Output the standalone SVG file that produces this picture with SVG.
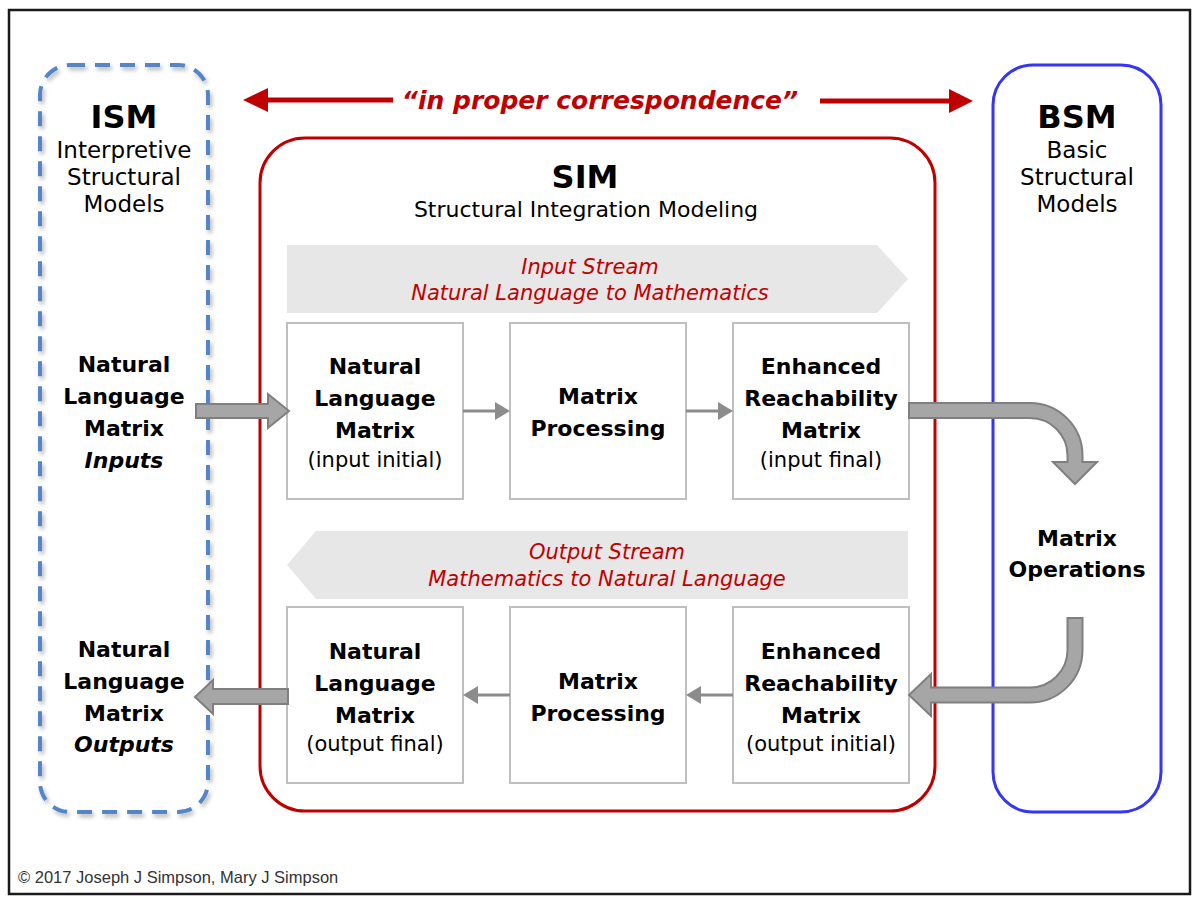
<svg xmlns="http://www.w3.org/2000/svg" width="1200" height="901" viewBox="0 0 1200 901">
<defs>
<style>
.t{font-family:"DejaVu Sans",sans-serif;fill:#000;text-anchor:middle}
.b{font-weight:bold;font-size:22px}
.r{font-size:21px}
.h{font-weight:bold;font-size:32px}
.s{font-size:22px}
.s2{font-size:23px}
.st{font-family:"DejaVu Sans",sans-serif;font-style:italic;font-size:21px;fill:#c00000;text-anchor:middle}
.box{fill:#fff;stroke:#bfbfbf;stroke-width:2}
.band{fill:#e7e7e7}
.big{fill:#a6a6a6;stroke:#7f7f7f;stroke-width:2;stroke-linejoin:miter}
.sm{stroke:#8c8c8c;stroke-width:3;fill:none}
.smh{fill:#8c8c8c}
.red{stroke:#c00000;stroke-width:5;fill:none}
.redh{fill:#c00000}
</style>
<filter id="sh" x="-10%" y="-10%" width="130%" height="130%">
<feDropShadow dx="2" dy="3" stdDeviation="2" flood-color="#000" flood-opacity="0.3"/>
</filter>
</defs>
<rect x="0" y="0" width="1200" height="901" fill="#fff"/>
<rect x="9" y="10" width="1181" height="884" fill="none" stroke="#1a1a1a" stroke-width="2.5"/>

<g id="ism">
<rect x="40" y="65" width="168" height="747" rx="30" fill="none" stroke="#5585c5" stroke-width="4" stroke-dasharray="15 10" filter="url(#sh)"/>
<text class="t h" x="124" y="128">ISM</text>
<text class="t s2" x="124" y="158">Interpretive</text>
<text class="t s2" x="124" y="185">Structural</text>
<text class="t s2" x="124" y="212">Models</text>
<text class="t b" x="124" y="372">Natural</text>
<text class="t b" x="124" y="404">Language</text>
<text class="t b" x="124" y="436">Matrix</text>
<text class="t b" x="124" y="468" font-style="italic">Inputs</text>
<text class="t b" x="124" y="657">Natural</text>
<text class="t b" x="124" y="689">Language</text>
<text class="t b" x="124" y="721">Matrix</text>
<text class="t b" x="124" y="752" font-style="italic">Outputs</text>
</g>

<g id="bsm">
<rect x="993" y="65" width="168" height="747" rx="40" fill="none" stroke="#3535f5" stroke-width="3"/>
<text class="t h" x="1077" y="128">BSM</text>
<text class="t s2" x="1077" y="158">Basic</text>
<text class="t s2" x="1077" y="185">Structural</text>
<text class="t s2" x="1077" y="212">Models</text>
<text class="t b" x="1077" y="546">Matrix</text>
<text class="t b" x="1077" y="577">Operations</text>
</g>

<g id="sim">
<rect x="260" y="138" width="675" height="673" rx="45" fill="none" stroke="#c00000" stroke-width="3"/>
<text class="t h" x="585" y="188">SIM</text>
<text class="t s" x="586" y="217">Structural Integration Modeling</text>
</g>

<g id="input-stream">
<polygon class="band" points="287,245 877,245 908,279 877,313 287,313"/>
<text class="st" x="590" y="274">Input Stream</text>
<text class="st" x="590" y="300">Natural Language to Mathematics</text>
</g>

<g id="output-stream">
<polygon class="band" points="316,531 908,531 908,599 316,599 287,565"/>
<text class="st" x="607" y="559">Output Stream</text>
<text class="st" x="607" y="586">Mathematics to Natural Language</text>
</g>

<g id="nlm-in">
<rect class="box" x="287" y="323" width="176" height="176"/>
<text class="t b" x="375" y="374">Natural</text>
<text class="t b" x="375" y="406">Language</text>
<text class="t b" x="375" y="438">Matrix</text>
<text class="t r" x="375" y="467">(input initial)</text>
</g>
<g id="mp-in">
<rect class="box" x="510" y="323" width="176" height="176"/>
<text class="t b" x="598" y="404">Matrix</text>
<text class="t b" x="598" y="436">Processing</text>
</g>
<g id="erm-in">
<rect class="box" x="733" y="323" width="176" height="176"/>
<text class="t b" x="821" y="374">Enhanced</text>
<text class="t b" x="821" y="406">Reachability</text>
<text class="t b" x="821" y="438">Matrix</text>
<text class="t r" x="821" y="467">(input final)</text>
</g>

<g id="nlm-out">
<rect class="box" x="287" y="607" width="176" height="176"/>
<text class="t b" x="375" y="659">Natural</text>
<text class="t b" x="375" y="691">Language</text>
<text class="t b" x="375" y="723">Matrix</text>
<text class="t r" x="375" y="751">(output final)</text>
</g>
<g id="mp-out">
<rect class="box" x="510" y="607" width="176" height="176"/>
<text class="t b" x="598" y="689">Matrix</text>
<text class="t b" x="598" y="721">Processing</text>
</g>
<g id="erm-out">
<rect class="box" x="733" y="607" width="176" height="176"/>
<text class="t b" x="821" y="659">Enhanced</text>
<text class="t b" x="821" y="691">Reachability</text>
<text class="t b" x="821" y="723">Matrix</text>
<text class="t r" x="821" y="751">(output initial)</text>
</g>

<g id="connectors">
<line class="red" x1="393" y1="100" x2="262" y2="100"/>
<polygon class="redh" points="243,100 268,88 268,112"/>
<line class="red" x1="820" y1="101" x2="953" y2="101"/>
<polygon class="redh" points="973,101 949,89 949,113"/>
<text x="600" y="109" font-family="DejaVu Sans,sans-serif" font-weight="bold" font-style="italic" font-size="25" fill="#c00000" text-anchor="middle">“in proper correspondence”</text>

<line class="sm" x1="463" y1="411" x2="498" y2="411"/>
<polygon class="smh" points="510,411 495,402 495,420"/>
<line class="sm" x1="686" y1="411" x2="721" y2="411"/>
<polygon class="smh" points="733,411 718,402 718,420"/>
<line class="sm" x1="733" y1="695" x2="698" y2="695"/>
<polygon class="smh" points="686,695 701,686 701,704"/>
<line class="sm" x1="510" y1="695" x2="475" y2="695"/>
<polygon class="smh" points="463,695 478,686 478,704"/>

<path class="big" d="M196,404 H268 V394 L289,411 L268,428 V418 H196 Z"/>
<path class="big" d="M288,689 H213 V680 L195,697 L213,714 V704 H288 Z"/>
<path class="big" d="M909,403 H1030 A52.5,52.5 0 0 1 1082.5,455.5 V462 H1097 L1075,484 L1053,462 H1067.5 V455.5 A37.5,37.5 0 0 0 1030,418 H909 Z"/>
<path class="big" d="M1067.5,618 H1082.5 V650 A52.5,52.5 0 0 1 1030,702.5 H931 V716 L909,695 L931,674 V687.5 H1030 A37.5,37.5 0 0 0 1067.5,650 Z"/>
</g>

<text x="18" y="883" font-family="Liberation Sans,Arial,sans-serif" font-size="16.5" fill="#333">© 2017 Joseph J Simpson, Mary J Simpson</text>
</svg>
